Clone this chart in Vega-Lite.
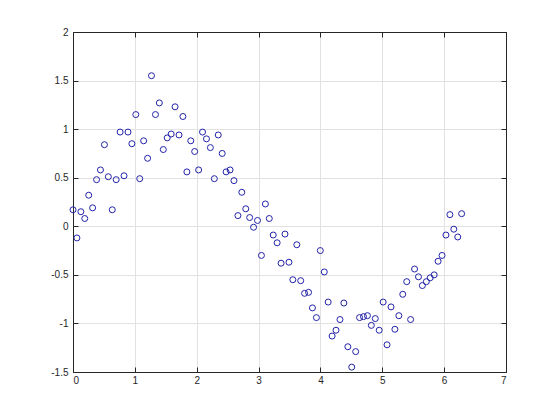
{
  "$schema": "https://vega.github.io/schema/vega-lite/v6.json",
  "width": 433,
  "height": 340,
  "autosize": {"type": "none"},
  "padding": {"left": 73, "top": 32, "right": 54, "bottom": 48},
  "background": "white",
  "config": {
    "view": {"stroke": "#262626", "strokeWidth": 1},
    "axis": {
      "labelFont": "Liberation Sans",
      "labelFontSize": 10,
      "labelColor": "#262626",
      "domainColor": "#262626",
      "tickColor": "#262626",
      "gridColor": "#e2e2e2",
      "gridWidth": 1,
      "domainWidth": 1,
      "tickWidth": 1,
      "title": null
    }
  },
  "data": {"values": [
    {"x": 0, "y": 0.17}, {"x": 0.063, "y": -0.12}, {"x": 0.127, "y": 0.15}, {"x": 0.190, "y": 0.08},
    {"x": 0.254, "y": 0.32}, {"x": 0.317, "y": 0.19}, {"x": 0.381, "y": 0.48}, {"x": 0.444, "y": 0.58},
    {"x": 0.508, "y": 0.84}, {"x": 0.571, "y": 0.51}, {"x": 0.635, "y": 0.17}, {"x": 0.698, "y": 0.48},
    {"x": 0.762, "y": 0.97}, {"x": 0.825, "y": 0.52}, {"x": 0.889, "y": 0.97}, {"x": 0.952, "y": 0.85},
    {"x": 1.015, "y": 1.15}, {"x": 1.079, "y": 0.49}, {"x": 1.142, "y": 0.88}, {"x": 1.206, "y": 0.70},
    {"x": 1.269, "y": 1.55}, {"x": 1.333, "y": 1.15}, {"x": 1.396, "y": 1.27}, {"x": 1.460, "y": 0.79},
    {"x": 1.523, "y": 0.91}, {"x": 1.587, "y": 0.95}, {"x": 1.650, "y": 1.23}, {"x": 1.714, "y": 0.94},
    {"x": 1.777, "y": 1.13}, {"x": 1.841, "y": 0.56}, {"x": 1.904, "y": 0.88}, {"x": 1.967, "y": 0.77},
    {"x": 2.031, "y": 0.58}, {"x": 2.094, "y": 0.97}, {"x": 2.158, "y": 0.90}, {"x": 2.221, "y": 0.81},
    {"x": 2.285, "y": 0.49}, {"x": 2.348, "y": 0.94}, {"x": 2.412, "y": 0.75}, {"x": 2.475, "y": 0.56},
    {"x": 2.539, "y": 0.58}, {"x": 2.602, "y": 0.47}, {"x": 2.666, "y": 0.11}, {"x": 2.729, "y": 0.35},
    {"x": 2.793, "y": 0.18}, {"x": 2.856, "y": 0.09}, {"x": 2.919, "y": -0.01}, {"x": 2.983, "y": 0.06},
    {"x": 3.046, "y": -0.30}, {"x": 3.110, "y": 0.23}, {"x": 3.173, "y": 0.08}, {"x": 3.237, "y": -0.09},
    {"x": 3.300, "y": -0.17}, {"x": 3.364, "y": -0.38}, {"x": 3.427, "y": -0.08}, {"x": 3.491, "y": -0.37},
    {"x": 3.554, "y": -0.55}, {"x": 3.618, "y": -0.19}, {"x": 3.681, "y": -0.56}, {"x": 3.744, "y": -0.69},
    {"x": 3.808, "y": -0.68}, {"x": 3.871, "y": -0.84}, {"x": 3.935, "y": -0.94}, {"x": 3.998, "y": -0.25},
    {"x": 4.062, "y": -0.47}, {"x": 4.125, "y": -0.78}, {"x": 4.189, "y": -1.13}, {"x": 4.252, "y": -1.07},
    {"x": 4.316, "y": -0.96}, {"x": 4.379, "y": -0.79}, {"x": 4.443, "y": -1.24}, {"x": 4.506, "y": -1.45},
    {"x": 4.570, "y": -1.29}, {"x": 4.633, "y": -0.94}, {"x": 4.696, "y": -0.93}, {"x": 4.760, "y": -0.92},
    {"x": 4.823, "y": -1.02}, {"x": 4.887, "y": -0.95}, {"x": 4.950, "y": -1.07}, {"x": 5.014, "y": -0.78},
    {"x": 5.077, "y": -1.22}, {"x": 5.141, "y": -0.83}, {"x": 5.204, "y": -1.06}, {"x": 5.268, "y": -0.92},
    {"x": 5.331, "y": -0.70}, {"x": 5.395, "y": -0.57}, {"x": 5.458, "y": -0.96}, {"x": 5.522, "y": -0.44},
    {"x": 5.585, "y": -0.52}, {"x": 5.648, "y": -0.61}, {"x": 5.712, "y": -0.57}, {"x": 5.775, "y": -0.53},
    {"x": 5.839, "y": -0.50}, {"x": 5.902, "y": -0.36}, {"x": 5.966, "y": -0.30}, {"x": 6.029, "y": -0.09},
    {"x": 6.093, "y": 0.12}, {"x": 6.156, "y": -0.03}, {"x": 6.220, "y": -0.11}, {"x": 6.283, "y": 0.13}
  ]},
  "layer": [
    {
      "mark": {"type": "point", "shape": "circle", "filled": false, "stroke": "#2323a8", "strokeWidth": 1, "size": 36, "opacity": 1},
      "encoding": {
        "x": {"field": "x", "type": "quantitative",
          "scale": {"domain": [0, 7], "nice": false, "zero": false},
          "axis": {"orient": "bottom", "values": [0, 1, 2, 3, 4, 5, 6, 7], "grid": true, "tickSize": -5, "labelPadding": 8,
            "labelExpr": "datum.value < 0 ? '-' + format(-datum.value, '~g') : format(datum.value, '~g')"}},
        "y": {"field": "y", "type": "quantitative",
          "scale": {"domain": [-1.5, 2], "nice": false, "zero": false},
          "axis": {"orient": "left", "values": [-1.5, -1, -0.5, 0, 0.5, 1, 1.5, 2], "grid": true, "tickSize": -5, "labelPadding": 10,
            "labelExpr": "datum.value < 0 ? '-' + format(-datum.value, '~g') : format(datum.value, '~g')"}}
      }
    },
    {
      "mark": {"type": "point", "opacity": 0},
      "encoding": {
        "x": {"field": "x", "type": "quantitative",
          "axis": {"orient": "top", "values": [0, 1, 2, 3, 4, 5, 6, 7], "grid": false, "labels": false, "tickSize": -5}},
        "y": {"field": "y", "type": "quantitative",
          "axis": {"orient": "right", "values": [-1.5, -1, -0.5, 0, 0.5, 1, 1.5, 2], "grid": false, "labels": false, "tickSize": -5}}
      }
    }
  ],
  "resolve": {"axis": {"x": "independent", "y": "independent"}}
}
